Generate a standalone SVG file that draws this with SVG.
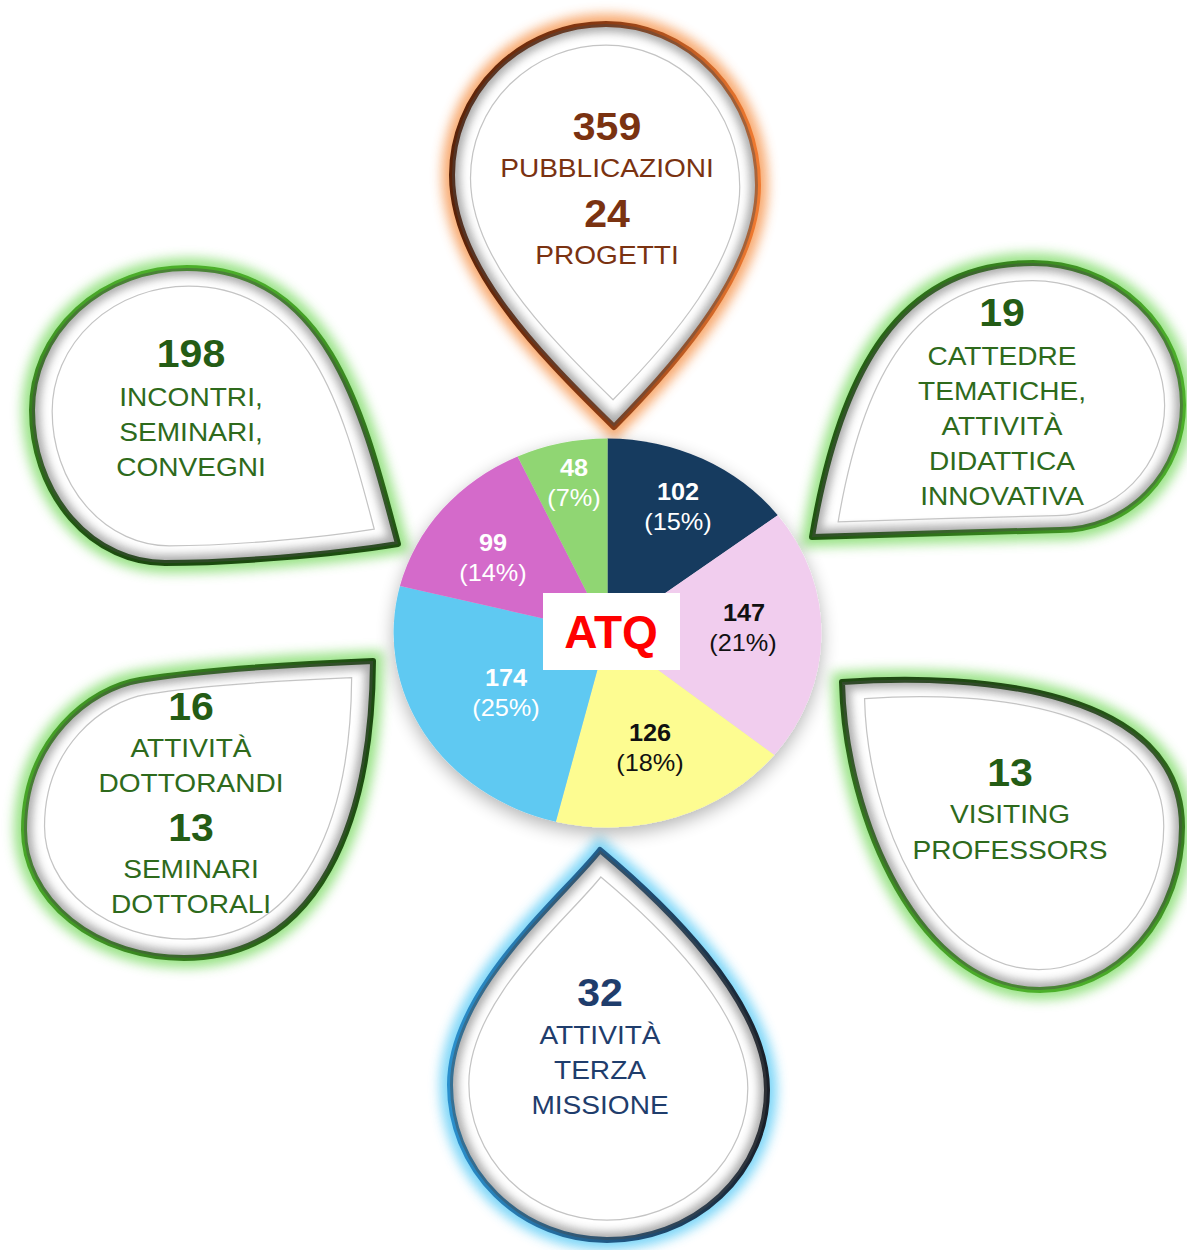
<svg xmlns="http://www.w3.org/2000/svg" xmlns:xlink="http://www.w3.org/1999/xlink" width="1187" height="1250" viewBox="0 0 1187 1250">
<style>
  .glow { fill: none; stroke-width: 20; opacity: 0.9; filter: url(#fGlow); }
  .body { fill: #ffffff; stroke-width: 6; stroke-linejoin: round; }
  .bevel { fill: none; stroke: #4a4a4a; stroke-width: 16; opacity: 0.45; filter: url(#fBlur); }
  .inner { fill: none; stroke: #c4c4c4; stroke-width: 1.4; }
  text { font-family: "Liberation Sans", Arial, sans-serif; text-anchor: middle; }
  .num { font-size: 38px; font-weight: bold; }
  .txt { font-size: 26px; }
  .brown { fill: #7a3211; }
  .green { fill: #2e6a1c; }
  .greenN { fill: #245c15; }
  .navy { fill: #1f3d6c; }
  .pl { font-size: 23px; }
  .plb { font-size: 23px; font-weight: bold; }
  .w { fill: #ffffff; }
  .k { fill: #111111; }
</style>
<defs>
  <filter id="fGlow" x="-20%" y="-20%" width="140%" height="140%">
    <feGaussianBlur stdDeviation="6"/>
  </filter>
  <filter id="fBlur" x="-20%" y="-20%" width="140%" height="140%">
    <feGaussianBlur stdDeviation="4"/>
  </filter>
  <filter id="fShadow" x="-20%" y="-20%" width="140%" height="140%">
    <feGaussianBlur in="SourceAlpha" stdDeviation="9"/>
    <feOffset dy="6" result="b"/>
    <feComponentTransfer><feFuncA type="linear" slope="0.3"/></feComponentTransfer>
    <feMerge><feMergeNode/><feMergeNode in="SourceGraphic"/></feMerge>
  </filter>
  <linearGradient id="gOrange" x1="0" y1="0" x2="1" y2="0">
    <stop offset="0" stop-color="#5a2208"/>
    <stop offset="0.5" stop-color="#8a3a12"/>
    <stop offset="1" stop-color="#f07a30"/>
  </linearGradient>
  <linearGradient id="gG2" x1="0" y1="0" x2="0" y2="1">
    <stop offset="0" stop-color="#4caf2a"/>
    <stop offset="1" stop-color="#1b4a0e"/>
  </linearGradient>
  <linearGradient id="gG3" x1="0" y1="0" x2="1" y2="0">
    <stop offset="0" stop-color="#1f5410"/>
    <stop offset="1" stop-color="#4caf2a"/>
  </linearGradient>
  <linearGradient id="gG4" x1="0" y1="0" x2="1" y2="0">
    <stop offset="0" stop-color="#47a527"/>
    <stop offset="1" stop-color="#1c4a10"/>
  </linearGradient>
  <linearGradient id="gG5" x1="0" y1="0" x2="0" y2="1">
    <stop offset="0" stop-color="#1f4a12"/>
    <stop offset="1" stop-color="#4caf2a"/>
  </linearGradient>
  <linearGradient id="gBlue" x1="0" y1="0" x2="1" y2="0">
    <stop offset="0" stop-color="#2a8fcc"/>
    <stop offset="0.6" stop-color="#1f4f78"/>
    <stop offset="1" stop-color="#1a1f28"/>
  </linearGradient>
  <path id="d1" d="M614,427 C530,345 452,262 452,175 A154,151 0 0 1 606,24 A152,161 0 0 1 758,185 C758,270 680,360 614,427 Z"/>
  <path id="d2" d="M398,544 C365,420 330,268 187,268 A155,142 0 0 0 32,410 A133,153 0 0 0 165,563 C230,563 330,555 398,544 Z"/>
  <path id="d3" d="M812,537 C840,370 900,263 1033,263 A150,142 0 0 1 1183,405 A123,125 0 0 1 1060,530 C1000,531 880,535 812,537 Z"/>
  <path id="d4" d="M373,661 C300,664 200,670 140,680 C90,688 24,740 24,830 A160,128 0 0 0 184,958 C320,958 372,820 373,661 Z"/>
  <path id="d5" d="M842,682 C980,672 1182,690 1182,827 A142,163 0 0 1 1040,990 C920,990 845,820 842,682 Z"/>
  <path id="d6" d="M600,850 C560,900 450,990 450,1085 A157,155 0 0 0 607,1240 A160,150 0 0 0 767,1090 C767,1000 660,900 600,850 Z"/>
  <clipPath id="c1"><use xlink:href="#d1"/></clipPath>
  <clipPath id="c2"><use xlink:href="#d2"/></clipPath>
  <clipPath id="c3"><use xlink:href="#d3"/></clipPath>
  <clipPath id="c4"><use xlink:href="#d4"/></clipPath>
  <clipPath id="c5"><use xlink:href="#d5"/></clipPath>
  <clipPath id="c6"><use xlink:href="#d6"/></clipPath>
</defs>
<rect width="1187" height="1250" fill="#ffffff"/>

<g id="connectors"></g>

<!-- Top drop: pubblicazioni -->
<g id="node-pubblicazioni">
  <use xlink:href="#d1" class="glow" stroke="#f7a060"/>
  <use xlink:href="#d1" class="body" stroke="url(#gOrange)"/>
  <g clip-path="url(#c1)"><use xlink:href="#d1" class="bevel"/></g>
  <use xlink:href="#d1" class="inner" vector-effect="non-scaling-stroke" transform="translate(606 200) scale(0.88) translate(-606 -200)"/>
  <g transform="matrix(1.08 0 0 1 607 0)">
    <text x="0" y="140" class="num brown">359</text>
    <text x="0" y="177" class="txt brown">PUBBLICAZIONI</text>
    <text x="0" y="227" class="num brown">24</text>
    <text x="0" y="264" class="txt brown">PROGETTI</text>
  </g>
</g>

<!-- Top-left drop -->
<g id="node-incontri">
  <use xlink:href="#d2" class="glow" stroke="#8fe07a"/>
  <use xlink:href="#d2" class="body" stroke="url(#gG2)"/>
  <g clip-path="url(#c2)"><use xlink:href="#d2" class="bevel"/></g>
  <use xlink:href="#d2" class="inner" vector-effect="non-scaling-stroke" transform="translate(200 420) scale(0.88) translate(-200 -420)"/>
  <g transform="matrix(1.08 0 0 1 191 0)">
    <text x="0" y="367" class="num greenN">198</text>
    <text x="0" y="406" class="txt green">INCONTRI,</text>
    <text x="0" y="441" class="txt green">SEMINARI,</text>
    <text x="0" y="476" class="txt green">CONVEGNI</text>
  </g>
</g>

<!-- Top-right drop -->
<g id="node-cattedre">
  <use xlink:href="#d3" class="glow" stroke="#8fe07a"/>
  <use xlink:href="#d3" class="body" stroke="url(#gG3)"/>
  <g clip-path="url(#c3)"><use xlink:href="#d3" class="bevel"/></g>
  <use xlink:href="#d3" class="inner" vector-effect="non-scaling-stroke" transform="translate(1030 410) scale(0.88) translate(-1030 -410)"/>
  <g transform="matrix(1.08 0 0 1 1002 0)">
    <text x="0" y="326" class="num greenN">19</text>
    <text x="0" y="365" class="txt green">CATTEDRE</text>
    <text x="0" y="400" class="txt green">TEMATICHE,</text>
    <text x="0" y="435" class="txt green">ATTIVITÀ</text>
    <text x="0" y="470" class="txt green">DIDATTICA</text>
    <text x="0" y="505" class="txt green">INNOVATIVA</text>
  </g>
</g>

<!-- Bottom-left drop -->
<g id="node-dottorandi">
  <use xlink:href="#d4" class="glow" stroke="#8fe07a"/>
  <use xlink:href="#d4" class="body" stroke="url(#gG4)"/>
  <g clip-path="url(#c4)"><use xlink:href="#d4" class="bevel"/></g>
  <use xlink:href="#d4" class="inner" vector-effect="non-scaling-stroke" transform="translate(195 800) scale(0.88) translate(-195 -800)"/>
  <g transform="matrix(1.08 0 0 1 191 0)">
    <text x="0" y="720" class="num greenN">16</text>
    <text x="0" y="757" class="txt green">ATTIVITÀ</text>
    <text x="0" y="792" class="txt green">DOTTORANDI</text>
    <text x="0" y="841" class="num greenN">13</text>
    <text x="0" y="878" class="txt green">SEMINARI</text>
    <text x="0" y="913" class="txt green">DOTTORALI</text>
  </g>
</g>

<!-- Bottom-right drop -->
<g id="node-visiting">
  <use xlink:href="#d5" class="glow" stroke="#8fe07a"/>
  <use xlink:href="#d5" class="body" stroke="url(#gG5)"/>
  <g clip-path="url(#c5)"><use xlink:href="#d5" class="bevel"/></g>
  <use xlink:href="#d5" class="inner" vector-effect="non-scaling-stroke" transform="translate(1030 820) scale(0.88) translate(-1030 -820)"/>
  <g transform="matrix(1.08 0 0 1 1010 0)">
    <text x="0" y="786" class="num greenN">13</text>
    <text x="0" y="823" class="txt green">VISITING</text>
    <text x="0" y="859" class="txt green">PROFESSORS</text>
  </g>
</g>

<!-- Bottom drop -->
<g id="node-terza-missione">
  <use xlink:href="#d6" class="glow" stroke="#6fd2f7"/>
  <use xlink:href="#d6" class="body" stroke="url(#gBlue)"/>
  <g clip-path="url(#c6)"><use xlink:href="#d6" class="bevel"/></g>
  <use xlink:href="#d6" class="inner" vector-effect="non-scaling-stroke" transform="translate(607 1075) scale(0.88) translate(-607 -1075)"/>
  <g transform="matrix(1.08 0 0 1 600 0)">
    <text x="0" y="1006" class="num navy">32</text>
    <text x="0" y="1044" class="txt navy">ATTIVITÀ</text>
    <text x="0" y="1079" class="txt navy">TERZA</text>
    <text x="0" y="1114" class="txt navy">MISSIONE</text>
  </g>
</g>

<!-- Central pie -->
<g id="node-pie">
  <g filter="url(#fShadow)">
    <g transform="translate(607.5 633) scale(1.1 1)">
      <path d="M0,0 L0,-194.5 A194.5,194.5 0 0 1 154.8,-117.7 Z" fill="#173a5e"/>
      <path d="M0,0 L154.8,-117.7 A194.5,194.5 0 0 1 151.6,121.9 Z" fill="#f1cdee"/>
      <path d="M0,0 L151.6,121.9 A194.5,194.5 0 0 1 -46.95,188.7 Z" fill="#fdfc91"/>
      <path d="M0,0 L-46.95,188.7 A194.5,194.5 0 0 1 -188.7,-46.95 Z" fill="#5fc9f2"/>
      <path d="M0,0 L-188.7,-46.95 A194.5,194.5 0 0 1 -81.7,-176.5 Z" fill="#d46bca"/>
      <path d="M0,0 L-81.7,-176.5 A194.5,194.5 0 0 1 0,-194.5 Z" fill="#90d673"/>
    </g>
  </g>
  <text transform="matrix(1.1 0 0 1 574 476)" class="plb w">48</text>
  <text transform="matrix(1.1 0 0 1 574 506)" class="pl w">(7%)</text>
  <text transform="matrix(1.1 0 0 1 678 500)" class="plb w">102</text>
  <text transform="matrix(1.1 0 0 1 678 530)" class="pl w">(15%)</text>
  <text transform="matrix(1.1 0 0 1 744 621)" class="plb k">147</text>
  <text transform="matrix(1.1 0 0 1 743 651)" class="pl k">(21%)</text>
  <text transform="matrix(1.1 0 0 1 650 741)" class="plb k">126</text>
  <text transform="matrix(1.1 0 0 1 650 771)" class="pl k">(18%)</text>
  <text transform="matrix(1.1 0 0 1 506 686)" class="plb w">174</text>
  <text transform="matrix(1.1 0 0 1 506 716)" class="pl w">(25%)</text>
  <text transform="matrix(1.1 0 0 1 493 551)" class="plb w">99</text>
  <text transform="matrix(1.1 0 0 1 493 581)" class="pl w">(14%)</text>
  <rect x="543" y="593" width="137" height="77" fill="#ffffff"/>
  <text x="611" y="648" style="font-size:46px;font-weight:bold;fill:#ff0000">ATQ</text>
</g>
</svg>
